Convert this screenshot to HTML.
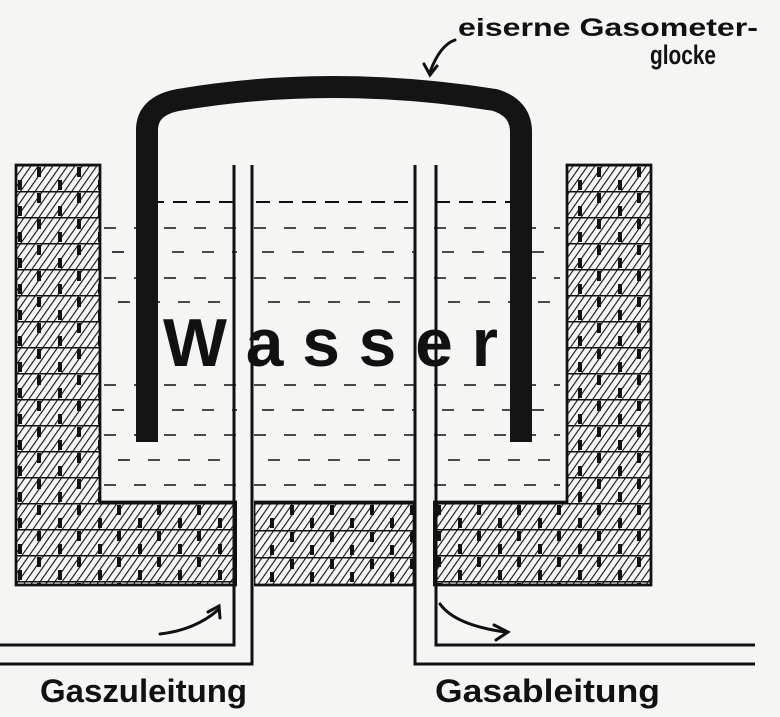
<!DOCTYPE html>
<html><head><meta charset="utf-8"><style>
html,body{margin:0;padding:0;background:#f5f5f3;}
svg{display:block}
text{font-family:"Liberation Sans",sans-serif;font-weight:bold;fill:#111}
</style></head><body>
<svg width="780" height="717" viewBox="0 0 780 717" xmlns="http://www.w3.org/2000/svg">
<defs>
<pattern id="h" width="6" height="6" patternUnits="userSpaceOnUse" patternTransform="rotate(35)">
<rect width="6" height="6" fill="#f5f5f3"/>
<line x1="0" y1="0" x2="0" y2="6" stroke="#111" stroke-width="2.2"/>
</pattern>
<pattern id="rows" width="40" height="27" patternUnits="userSpaceOnUse" x="0" y="503">
<line x1="0" y1="0.5" x2="40" y2="0.5" stroke="#111" stroke-width="2"/>
<rect x="10" y="2" width="4" height="10" fill="#111"/>
<rect x="30" y="15" width="4" height="10" fill="#111"/>
</pattern>
<pattern id="rowsv" width="40" height="26" patternUnits="userSpaceOnUse" x="15" y="165">
<line x1="0" y1="0.5" x2="40" y2="0.5" stroke="#111" stroke-width="2"/>
<rect x="22" y="2" width="4" height="10" fill="#111"/>
<rect x="3" y="15" width="4" height="10" fill="#111"/>
</pattern>
</defs>
<g stroke="#111" stroke-width="2.5">
<path d="M16 165 H100 V502 H236 V585 H16 Z" fill="url(#h)"/>
<path d="M16 165 H100 V502 H236 V585 H16 Z" fill="url(#rowsv)" stroke="none"/>
<rect x="254" y="502" width="160" height="83" fill="url(#h)"/>
<rect x="254" y="502" width="160" height="83" fill="url(#rows)" stroke="none"/>
<path d="M567 165 H651 V585 H434 V502 H567 Z" fill="url(#h)"/>
<path d="M567 165 H651 V585 H434 V502 H567 Z" fill="url(#rowsv)" stroke="none"/>
<path d="M16 165 H100 V502 H236 V585 H16 Z" fill="none"/>
<rect x="254" y="502" width="160" height="83" fill="none"/>
<path d="M567 165 H651 V585 H434 V502 H567 Z" fill="none"/>
</g>
<g stroke="#111" stroke-width="2" stroke-dasharray="14 9">
<line x1="150" y1="202" x2="236" y2="202"/>
<line x1="256" y1="202" x2="414" y2="202"/>
<line x1="436" y1="202" x2="512" y2="202"/>
</g>
<g stroke="#111" stroke-width="1.6" stroke-dasharray="12 18">
<line x1="104" y1="228" x2="560" y2="228"/>
<line x1="112" y1="252" x2="560" y2="252"/>
<line x1="104" y1="278" x2="560" y2="278"/>
<line x1="118" y1="302" x2="560" y2="302"/>
<line x1="104" y1="385" x2="560" y2="385"/>
<line x1="112" y1="410" x2="560" y2="410"/>
<line x1="104" y1="435" x2="560" y2="435"/>
<line x1="118" y1="460" x2="560" y2="460"/>
<line x1="104" y1="485" x2="560" y2="485"/>
</g>
<rect x="160" y="318" width="340" height="54" fill="#f5f5f3"/>
<g stroke="#111" stroke-width="3" fill="none">
<rect x="237" y="200" width="17" height="440" fill="#f5f5f3" stroke="none"/>
<rect x="416" y="200" width="17" height="440" fill="#f5f5f3" stroke="none"/>
<path d="M0 645 H234 V165"/>
<path d="M0 664 H252 V165"/>
<path d="M755 645 H436 V165"/>
<path d="M755 664 H415 V165"/>
</g>
<path d="M147 442 V130 Q147 106 178 100 Q330 74 495 100 Q521 108 521 132 V442" fill="none" stroke="#141414" stroke-width="22"/>
<text x="163" y="366" font-size="68" font-family="Liberation Serif,serif" textLength="335" lengthAdjust="spacingAndGlyphs">W a s s e r</text>
<g stroke="#111" stroke-width="3" fill="none" stroke-linecap="round">
<path d="M160 634 Q195 630 218 610"/><path d="M208 612 L219 606 L220 618"/>
<path d="M440 604 Q455 625 505 632"/><path d="M494 625 L508 632 L496 640"/>
<path d="M455 40 Q440 45 430 72"/><path d="M424 64 L430 75 L437 66"/>
</g>
<text x="458" y="36" font-size="25" textLength="300" lengthAdjust="spacingAndGlyphs">eiserne Gasometer-</text>
<text x="650" y="64" font-size="27" textLength="66" lengthAdjust="spacingAndGlyphs">glocke</text>
<text x="40" y="702" font-size="32" textLength="207" lengthAdjust="spacingAndGlyphs">Gaszuleitung</text>
<text x="435" y="702" font-size="32" textLength="225" lengthAdjust="spacingAndGlyphs">Gasableitung</text>
</svg>
</body></html>
